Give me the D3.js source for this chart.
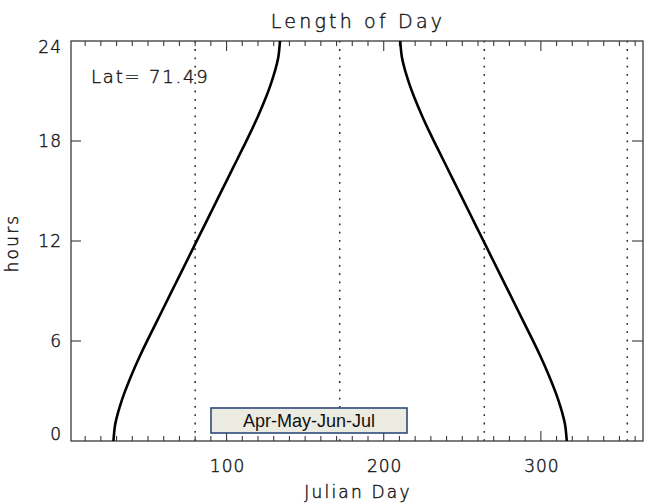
<!DOCTYPE html>
<html><head><meta charset="utf-8">
<script src="https://cdn.jsdelivr.net/npm/d3@7"></script>
<style>body{margin:0;background:#fff}svg{display:block}</style>
</head><body>
<script>
// Data
const title = "Length of Day";
const latLabel = "Lat= 71.49";
const boxLabel = "Apr-May-Jun-Jul";
const xTickLabels = [100, 200, 300];
const yTickLabels = [0, 6, 12, 18, 24];
const markerDays = [80, 172, 264, 355];
const springDays = [28,29,30,32,35,40,45,50,55,60,65,70,75,80,85,90,95,100,105,110,112,115,120,125,128,130,132,133,134];
const springHours = [0,0.93,1.37,2.05,2.89,4.07,5.13,6.11,7.06,8.01,8.96,9.91,10.86,11.81,12.76,13.71,14.66,15.61,16.56,17.51,17.89,18.47,19.49,20.61,21.37,21.95,22.63,23.07,24];
const autumnDays = [210.5,211.5,212.5,214.5,216.5,219.5,224.5,229.5,232.5,234.5,239.5,244.5,249.5,254.5,259.5,264.5,269.5,274.5,279.5,284.5,289.5,294.5,299.5,304.5,309.5,312.5,314.5,315.5,316.5];
const autumnHours = [24,23.07,22.63,21.95,21.37,20.61,19.49,18.47,17.89,17.51,16.56,15.61,14.66,13.71,12.76,11.81,10.86,9.91,8.96,8.01,7.06,6.11,5.13,4.07,2.89,2.05,1.37,0.93,0];

const W = 666, H = 504;
const L = 71, R = 643, T = 41, B = 441;
const svg = d3.select("body").append("svg").attr("width", W).attr("height", H);
const x = d3.scaleLinear().domain([1, 365]).range([L, R]);
const y = d3.scaleLinear().domain([0, 24]).range([B, T]);
const ink = "#3a3a3a";
const txt = "#1a1a1a";
const font = "'DejaVu Sans', sans-serif";

// dotted markers
svg.selectAll("line.mark").data(markerDays).join("line")
  .attr("x1", d => x(d)).attr("x2", d => x(d)).attr("y1", B).attr("y2", T)
  .attr("stroke", "#333").attr("stroke-width", 1.6).attr("stroke-dasharray", "1.8,6.5");

// ticks
const minor = d3.range(10, 365, 10).filter(d => d % 100 !== 0);
const major = xTickLabels;
function xt(vals, len) {
  svg.append("g").selectAll("line").data(vals).join("line")
    .attr("x1", d => x(d)).attr("x2", d => x(d)).attr("y1", B).attr("y2", B - len)
    .attr("stroke", ink).attr("stroke-width", 1.1);
  svg.append("g").selectAll("line").data(vals).join("line")
    .attr("x1", d => x(d)).attr("x2", d => x(d)).attr("y1", T).attr("y2", T + len)
    .attr("stroke", ink).attr("stroke-width", 1.1);
}
xt(minor, 5); xt(major, 10);
const yt = yTickLabels.filter(d => d > 0 && d < 24);
svg.append("g").selectAll("line").data(yt).join("line")
  .attr("x1", L).attr("x2", L + 10).attr("y1", d => y(d)).attr("y2", d => y(d))
  .attr("stroke", ink).attr("stroke-width", 1.1);
svg.append("g").selectAll("line").data(yt).join("line")
  .attr("x1", R).attr("x2", R - 11).attr("y1", d => y(d)).attr("y2", d => y(d))
  .attr("stroke", ink).attr("stroke-width", 1.1);

// frame
svg.append("rect").attr("x", L).attr("y", T).attr("width", R - L).attr("height", B - T)
  .attr("fill", "none").attr("stroke", ink).attr("stroke-width", 1.3);

// curves
[[springDays, springHours], [autumnDays, autumnHours]].forEach(([ds, hs]) => {
  svg.append("path").datum(ds.map((d, i) => [d, hs[i]]))
    .attr("d", d3.line().x(d => x(d[0])).y(d => y(d[1])).curve(d3.curveCatmullRom))
    .attr("fill", "none").attr("stroke", "#000").attr("stroke-width", 2.6);
});

function t(sel, size, ls) {
  return sel.attr("font-family", font).attr("font-weight", 200).attr("font-size", size)
    .attr("letter-spacing", ls).attr("fill", txt).attr("stroke", txt).attr("stroke-width", 0.45);
}
// tick labels
t(svg.append("g").selectAll("text").data(xTickLabels).join("text")
  .attr("x", d => x(d) + 1).attr("y", 472).attr("text-anchor", "middle"), 17, 1)
  .text(d => d);
t(svg.append("g").selectAll("text").data(yTickLabels).join("text")
  .attr("x", 62).attr("y", d => Math.min(Math.max(y(d), 47), 434) + 6).attr("text-anchor", "end"), 17, 1)
  .text(d => d);

// titles
t(svg.append("text").attr("x", 358).attr("y", 28).attr("text-anchor", "middle"), 19, 3.2).text(title);
t(svg.append("text").attr("x", 358).attr("y", 498).attr("text-anchor", "middle"), 17, 2.2).text("Julian Day");
t(svg.append("text").attr("transform", "translate(18,243) rotate(-90)").attr("text-anchor", "middle"), 17, 2.2).text("hours");
t(svg.append("text").attr("x", 91).attr("y", 83), 18, 1.8).text(latLabel);

// box
svg.append("rect").attr("x", 211).attr("y", 408).attr("width", 196).attr("height", 25)
  .attr("fill", "#ecebe1").attr("stroke", "#2c4a7c").attr("stroke-width", 1.6);
svg.append("text").attr("x", 309).attr("y", 427).attr("text-anchor", "middle")
  .attr("font-family", "'Liberation Sans', Arial, sans-serif").attr("font-size", 18).attr("fill", "#111")
  .text(boxLabel);
</script>
</body></html>
